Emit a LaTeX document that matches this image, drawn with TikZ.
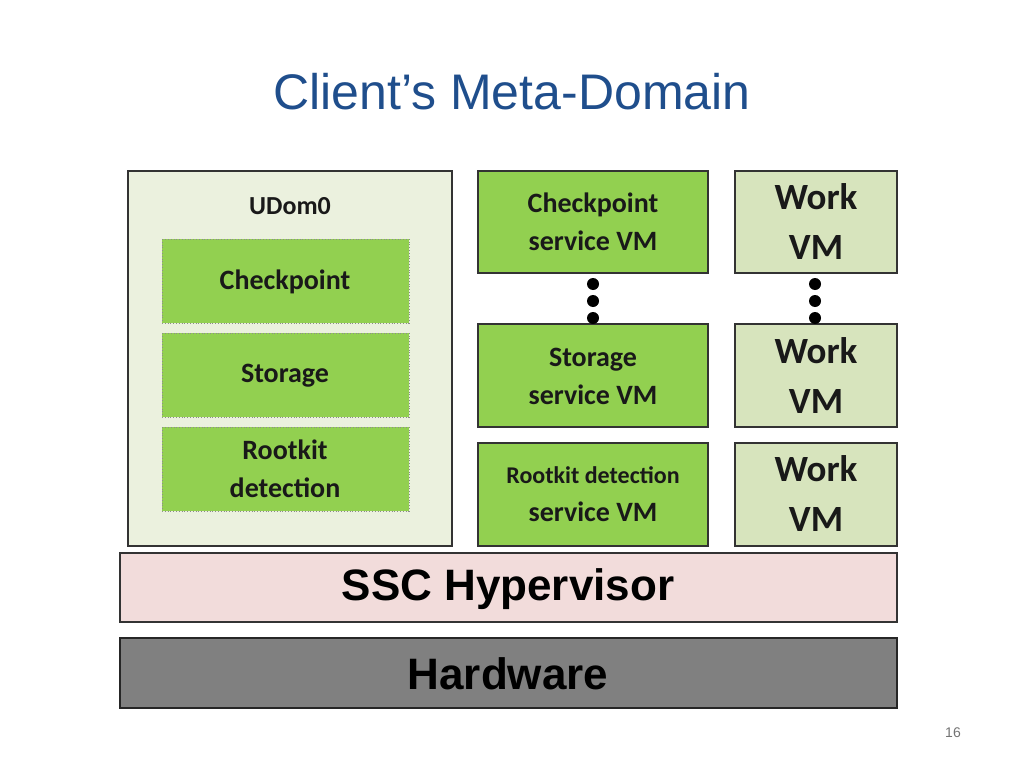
\documentclass[tikz,border=0pt]{standalone}
\usepackage{fontspec}
\setmainfont{Carlito}
\newfontfamily\arialf{Liberation Sans}
\definecolor{titleblue}{HTML}{1F4E8C}
\definecolor{gfill}{HTML}{92D050}
\definecolor{lgfill}{HTML}{D7E4BD}
\definecolor{udfill}{HTML}{EBF1DE}
\definecolor{pinkf}{HTML}{F2DCDB}
\begin{document}
\begin{tikzpicture}[x=1pt,y=-1pt,
  box/.style={draw=black!80,line width=1.5pt},
  inner/.style={draw=black!45,dotted,line width=0.8pt,fill=gfill},
  lbl/.style={font=\bfseries\fontsize{28}{38}\selectfont,align=center,text=black!90},
  wl/.style={font=\bfseries\fontsize{37}{50}\selectfont,align=center,text=black!90},
  dot/.style={circle,fill=black,inner sep=0pt,minimum size=12pt}]
\useasboundingbox (0,0) rectangle (1024,768);
\node[font=\arialf\fontsize{50}{60}\selectfont,text=titleblue] (title) at (512,92) {Client’s Meta-Domain};
\draw[box,fill=udfill] (128,171) rectangle (452,546);
\node[lbl,font=\bfseries\fontsize{26}{34}\selectfont] (ud) at (290,206) {UDom0};
\draw[inner] (162,239) rectangle (409,323); \node[lbl] (c1) at (285,282) {Checkpoint};
\draw[inner] (162,333) rectangle (409,417); \node[lbl] (s1) at (285,376) {Storage};
\draw[inner] (162,427) rectangle (409,511); \node[lbl] (r1) at (285,469) {Rootkit\\detection};
\draw[box,fill=gfill] (478,171) rectangle (708,273); \node[lbl] (cs) at (593,222) {Checkpoint\\service VM};
\draw[box,fill=gfill] (478,324) rectangle (708,427); \node[lbl] (ss) at (593,376) {Storage\\service VM};
\draw[box,fill=gfill] (478,443) rectangle (708,546); \node[lbl,font=\bfseries\fontsize{24}{38}\selectfont] (rs) at (593,494) {Rootkit detection\\\fontsize{28}{38}\selectfont service VM};
\draw[box,fill=lgfill] (735,171) rectangle (897,273); \node[wl] (w1) at (816,222) {Work\\VM};
\draw[box,fill=lgfill] (735,324) rectangle (897,427); \node[wl] (w2) at (816,376) {Work\\VM};
\draw[box,fill=lgfill] (735,443) rectangle (897,546); \node[wl] (w3) at (816,494) {Work\\VM};
\foreach \y/\n in {284/a,301/b,318/c}{
  \node[dot] (d1\n) at (593,\y) {};
  \node[dot] (d2\n) at (815,\y) {};}
\draw[draw=black!80,line width=1.5pt,fill=pinkf] (120,553) rectangle (897,622);
\node[font=\arialf\bfseries\fontsize{44}{50}\selectfont] (hv) at (508,589) {SSC Hypervisor};
\draw[draw=black!85,line width=1.5pt,fill=black!50] (120,638) rectangle (897,708);
\node[font=\arialf\bfseries\fontsize{44}{50}\selectfont] (hw) at (508,674) {Hardware};
\node[font=\arialf\fontsize{14}{16}\selectfont,text=black!55] (pg) at (953,733) {16};
\end{tikzpicture}
\end{document}
